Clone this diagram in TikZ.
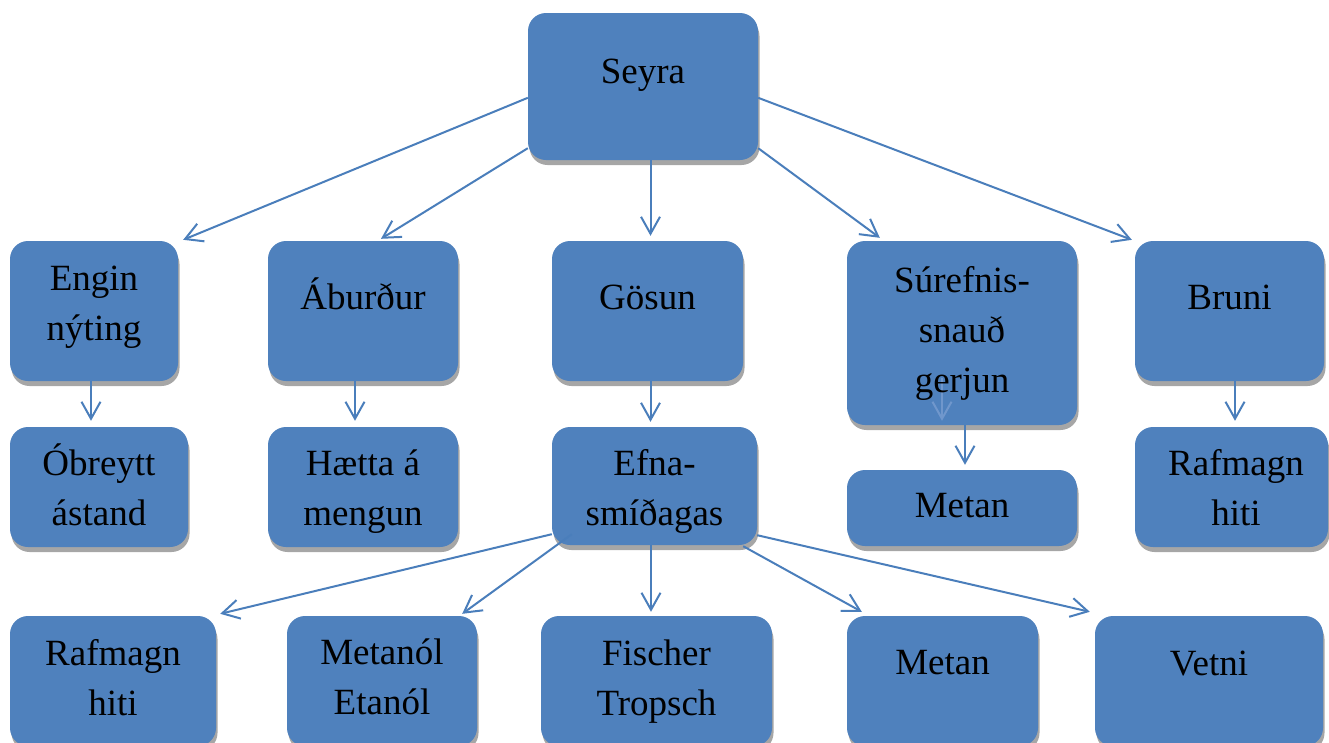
\documentclass[tikz,border=0pt]{standalone}
\usepackage{fontspec}
\setmainfont{Liberation Serif}
\usetikzlibrary{arrows.meta,shadows}
\definecolor{boxblue}{HTML}{4F81BD}
\definecolor{linkblue}{HTML}{4A7EBB}
\definecolor{faintblue}{HTML}{7097CC}
\definecolor{shade}{HTML}{A6A6A6}
% stacked text lines, baseline on the first line
\newcommand\stackln[1]{\begin{tabular}[t]{@{}c@{}}#1\end{tabular}}
\tikzset{
  blk/.style={rectangle, rounded corners=18pt, fill=boxblue, draw=none, inner sep=0pt,
    drop shadow={shadow xshift=1.5pt, shadow yshift=-5pt, fill=shade, opacity=1}},
  lbl/.style={anchor=base, inner sep=0pt, text=black, font=\fontsize{37}{50}\selectfont},
  link/.style={draw=linkblue, line width=2pt, -{Straight Barb[length=17pt,width=19pt]}},
}
\begin{document}
\begin{tikzpicture}[x=1pt, y=-1pt]
\useasboundingbox (0,0) rectangle (1329,742);

% boxes
\node[blk, minimum width=230pt, minimum height=147pt] (seyra) at (643,86.5) {};
\node[blk, minimum width=168pt, minimum height=140pt] (engin) at (94,311) {};
\node[blk, minimum width=190pt, minimum height=140pt] (aburdur) at (363,311) {};
\node[blk, minimum width=191pt, minimum height=140pt] (gosun) at (647.5,311) {};
\node[blk, minimum width=230pt, minimum height=184pt] (surefnis) at (962,333) {};
\node[blk, minimum width=189pt, minimum height=140pt] (bruni) at (1229.5,311) {};
\node[blk, minimum width=178pt, minimum height=120pt] (obreytt) at (99,487) {};
\node[blk, minimum width=190pt, minimum height=120pt] (haetta) at (363,487) {};
\node[blk, minimum width=205pt, minimum height=118pt] (efna) at (654.5,486) {};
\node[blk, minimum width=230pt, minimum height=76pt] (metanA) at (962,508) {};
\node[blk, minimum width=193pt, minimum height=120pt] (rafmagnA) at (1231.5,487) {};
\node[blk, minimum width=206pt, minimum height=130pt] (rafmagnB) at (113,681) {};
\node[blk, minimum width=190pt, minimum height=130pt] (metanol) at (382,681) {};
\node[blk, minimum width=231pt, minimum height=130pt] (fischer) at (656.5,681) {};
\node[blk, minimum width=191pt, minimum height=130pt] (metanB) at (942.5,681) {};
\node[blk, minimum width=228pt, minimum height=130pt] (vetni) at (1209,681) {};

% faint connector showing through the Súrefnis box
\draw[link, draw=faintblue] ([shift={(-20,-47)}]surefnis.south) -- ([shift={(-20,-49)}]metanA.north);

% texts
\node[lbl] (seyra-t) at (643,83) {Seyra};
\node[lbl] (engin-t) at (94,290) {\stackln{Engin\\nýting}};
\node[lbl] (aburdur-t) at (363,309) {Áburður};
\node[lbl] (gosun-t) at (647.5,309) {Gösun};
\node[lbl] (surefnis-t) at (962,292) {\stackln{Súrefnis-\\snauð\\gerjun}};
\node[lbl] (bruni-t) at (1229.5,309) {Bruni};
\node[lbl] (obreytt-t) at (99,475) {\stackln{Óbreytt\\ástand}};
\node[lbl] (haetta-t) at (363,475) {\stackln{Hætta á\\mengun}};
\node[lbl] (efna-t) at (654.5,475) {\stackln{Efna-\\smíðagas}};
\node[lbl] (metanA-t) at (962,517) {Metan};
\node[lbl] (rafmagnA-t) at (1236,475) {\stackln{Rafmagn\\hiti}};
\node[lbl] (rafmagnB-t) at (113,665) {\stackln{Rafmagn\\hiti}};
\node[lbl] (metanol-t) at (382,664) {\stackln{Metanól\\Etanól}};
\node[lbl] (fischer-t) at (656.5,665) {\stackln{Fischer\\Tropsch}};
\node[lbl] (metanB-t) at (942.5,674) {Metan};
\node[lbl] (vetni-t) at (1209,675) {Vetni};

% connectors
\draw[link] ([shift={(0,85)}]seyra.north west) -- ([shift={(5,-1)}]engin.north east);
\draw[link] ([shift={(0,-12)}]seyra.south west) -- ([shift={(18,-2)}]aburdur.north);
\draw[link] ([shift={(7.5,0)}]seyra.south) -- ([shift={(3,-5)}]gosun.north);
\draw[link] ([shift={(0,-12)}]seyra.south east) -- ([shift={(33,-3)}]surefnis.north west);
\draw[link] ([shift={(0,85)}]seyra.north east) -- ([shift={(-3,-1)}]bruni.north west);

\draw[link] ([shift={(-3,0)}]engin.south) -- ([shift={(-8,-6)}]obreytt.north);
\draw[link] ([shift={(-8,0)}]aburdur.south) -- ([shift={(-8,-6)}]haetta.north);
\draw[link] ([shift={(3,0)}]gosun.south) -- ([shift={(-4,-5)}]efna.north);
\draw[link] ([shift={(3,0)}]surefnis.south) -- ([shift={(3,-5)}]metanA.north);
\draw[link] ([shift={(5.5,0)}]bruni.south) -- ([shift={(3.5,-6)}]rafmagnA.north);

\draw[link] ([shift={(0,-11)}]efna.south west) -- ([shift={(4,-2)}]rafmagnB.north east);
\draw[link] ([shift={(20,-11)}]efna.south west) -- ([shift={(-15,-2)}]metanol.north east);
\draw[link] ([shift={(-3.5,0)}]efna.south) -- ([shift={(-5.5,-4)}]fischer.north);
\draw[link] ([shift={(-14,1)}]efna.south east) -- ([shift={(15,-4)}]metanB.north west);
\draw[link] ([shift={(0,-10)}]efna.south east) -- ([shift={(-5,-4)}]vetni.north west);
\end{tikzpicture}
\end{document}
